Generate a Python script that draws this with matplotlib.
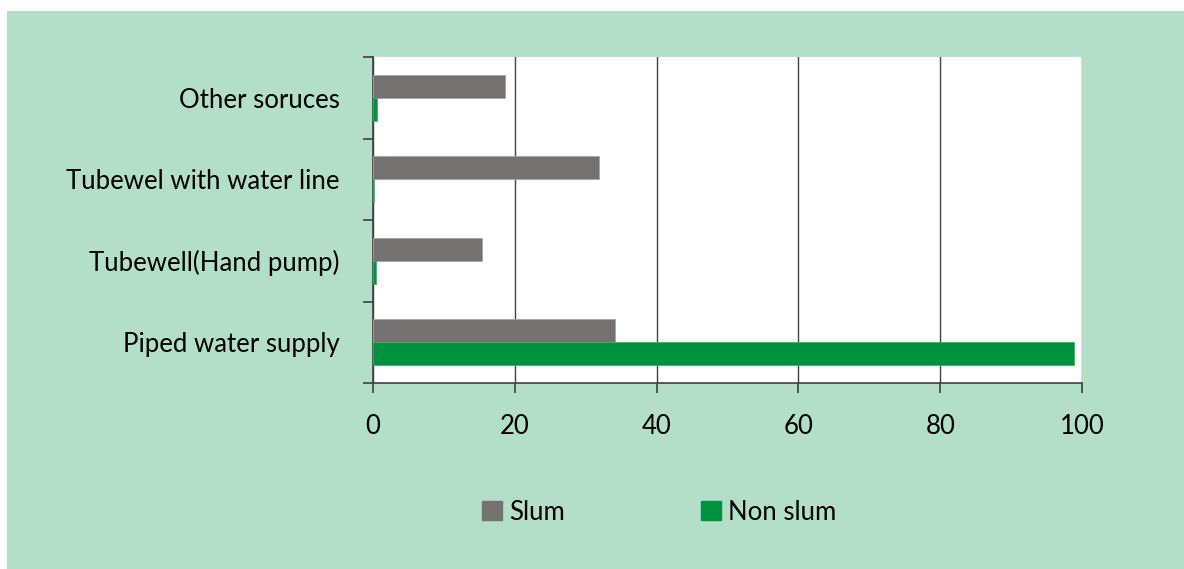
import matplotlib.pyplot as plt
import matplotlib.patches as mpatches
import numpy as np

plt.rcParams['font.family'] = ['Lato', 'DejaVu Sans']

categories = ['Piped water supply', 'Tubewell(Hand pump)', 'Tubewel with water line', 'Other soruces']
slum = [34.1, 15.4, 31.9, 18.6]
non_slum = [98.9, 0.4, 0.1, 0.5]
xticks = [0, 20, 40, 60, 80, 100]

bg = '#b3dec8'
grey = '#767171'
green = '#00923f'

fig = plt.figure(figsize=(11.84, 5.69), dpi=100)
fig.patch.set_facecolor('white')
# green panel behind the chart
fig.add_artist(mpatches.Rectangle((7 / 1184, 0), 1, 1 - 11 / 569,
                                  transform=fig.transFigure, facecolor=bg,
                                  edgecolor='none', zorder=0))

ax = fig.add_axes([373 / 1184, 1 - 383 / 569, (1082 - 373) / 1184, (383 - 57) / 569])
ax.set_facecolor('white')

y = np.arange(len(categories))
h = 0.28
ax.barh(y + h / 2, slum, height=h, color=grey, edgecolor='#a6a6a6', linewidth=0.6, zorder=3)
ax.barh(y - h / 2, non_slum, height=h, color=green, edgecolor='#3fb06f', linewidth=0.6, zorder=3)

ax.set_xlim(0, 100)
ax.set_ylim(-0.5, len(categories) - 0.5)
ax.set_xticks(xticks)
ax.set_xticklabels([str(t) for t in xticks], fontsize=18.5)
ax.set_yticks(y)
ax.set_yticklabels(categories, fontsize=18.5)
ax.set_yticks(np.arange(-0.5, len(categories), 1), minor=True)

ax.tick_params(axis='y', which='major', length=0, pad=24)
ax.tick_params(axis='y', which='minor', length=7, width=1.2, color='#404040', direction='out')
ax.tick_params(axis='x', length=7, width=1.2, color='#404040', direction='out', pad=15)

ax.xaxis.grid(True, color='#404040', linewidth=1.0, zorder=1)
for s in ['top', 'right']:
    ax.spines[s].set_visible(False)
ax.spines['left'].set_color('#404040')
ax.spines['bottom'].set_color('#404040')
ax.spines['left'].set_linewidth(1.2)
ax.spines['bottom'].set_linewidth(1.2)

handles = [mpatches.Patch(color=grey, label='Slum'), mpatches.Patch(color=green, label='Non slum')]
fig.legend(handles=handles, loc='center', bbox_to_anchor=(0.557, 1 - 512 / 569), ncol=2,
           frameon=False, fontsize=18.5, handlelength=0.75, handleheight=0.75,
           handletextpad=0.3, columnspacing=5.3)

fig.savefig('out.png', dpi=100, facecolor='white')
